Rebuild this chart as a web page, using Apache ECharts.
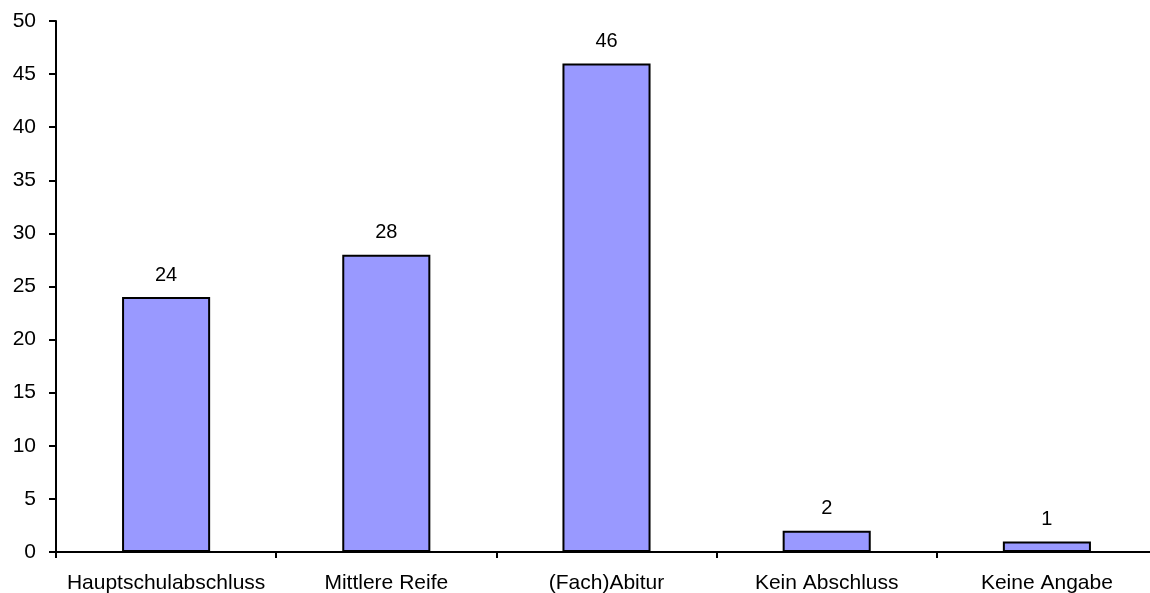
<!DOCTYPE html>
<html>
<head>
<meta charset="utf-8">
<script src="https://cdn.jsdelivr.net/npm/echarts@6/dist/echarts.min.js"></script>
<style>
  html, body { margin: 0; padding: 0; background: #fff; }
  #chart { width: 1150px; height: 593px; }
</style>
</head>
<body>
<div id="chart"></div>
<script>
// Schulabschluss – Anzahl der Nennungen
const categories = ['Hauptschulabschluss', 'Mittlere Reife', '(Fach)Abitur', 'Kein Abschluss', 'Keine Angabe'];
const counts = [24, 28, 46, 2, 1];
const yTicks = { min: 0, max: 50, interval: 5 };

const font = 'Liberation Sans, Arial, sans-serif';
const chart = echarts.init(document.getElementById('chart'), null, { renderer: 'canvas' });

chart.setOption({
  animation: false,
  backgroundColor: '#ffffff',
  grid: {
    left: 56,
    top: 21,
    bottom: 41,
    right: -7,
    containLabel: false,
    outerBoundsMode: 'none'
  },
  xAxis: {
    type: 'category',
    data: categories,
    boundaryGap: true,
    axisLine: { show: true, lineStyle: { color: '#000', width: 2 } },
    axisTick: { show: true, alignWithLabel: false, length: 6, inside: false, lineStyle: { color: '#000', width: 2 } },
    axisLabel: { color: '#000', fontFamily: font, fontSize: 21, margin: 21, interval: 0 },
    splitLine: { show: false }
  },
  yAxis: {
    type: 'value',
    min: yTicks.min,
    max: yTicks.max,
    interval: yTicks.interval,
    axisLine: { show: true, lineStyle: { color: '#000', width: 2 } },
    axisTick: { show: true, length: 7, lineStyle: { color: '#000', width: 2 } },
    axisLabel: { color: '#000', fontFamily: font, fontSize: 21, margin: 20 },
    splitLine: { show: false }
  },
  series: [{
    type: 'bar',
    data: counts,
    barWidth: '40%',
    itemStyle: { color: '#9999ff', borderColor: '#000', borderWidth: 2 },
    label: {
      show: true,
      position: 'top',
      distance: 12,
      color: '#000',
      fontFamily: font,
      fontSize: 20
    }
  }]
});
</script>
</body>
</html>
